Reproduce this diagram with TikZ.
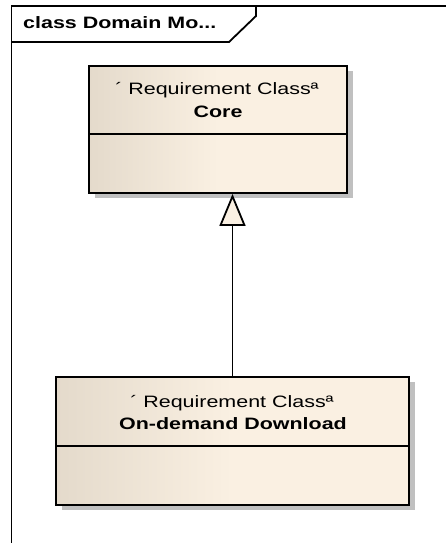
\documentclass[tikz,border=0pt]{standalone}
\usepackage{fontspec}
\usepackage{graphicx}
\setmainfont{Liberation Sans}
\usetikzlibrary{arrows.meta,shadows}

\definecolor{boxleft}{HTML}{E4DACB}
\definecolor{boxright}{HTML}{FAF0E2}
\definecolor{shadowgray}{HTML}{C0C0C0}

% text set slightly wide, as the modelling tool renders it
\newcommand{\wide}[1]{\scalebox{1.3}[1]{#1}}

\tikzset{
  frameline/.style={line width=1.8pt, line join=miter},
  classbox/.style={draw, line width=1.8pt, rectangle, inner sep=0pt,
    left color=boxleft, right color=boxright, middle color=boxright,
    general shadow={fill=shadowgray, shadow xshift=6pt, shadow yshift=-5pt}},
  sepline/.style={line width=1.6pt},
  umltext/.style={anchor=base, inner sep=0pt, font=\fontsize{16.5}{19}\selectfont},
  gen/.style={line width=1.8pt,
    -{Triangle[open, length=32pt, width=26pt, fill=boxright]}}
}

\begin{document}
\begin{tikzpicture}[x=1pt, y=1pt]
  \useasboundingbox (0,0) rectangle (445,-543);

  % diagram frame with its name tab
  \draw[frameline] (11.5,-545) -- (11.5,-6) -- (447,-6);
  \draw[frameline] (11.5,-42) -- (229,-42) -- (256,-16) -- (256,-6);
  \node[umltext, anchor=base west, font=\fontsize{16.5}{19}\selectfont\bfseries]
    (title) at (23,-28.5) {\wide{class Domain Mo...}};

  % requirement class: Core
  \node[classbox, minimum width=258pt, minimum height=127pt] (core) at (218,-129.5) {};
  \draw[sepline] (core.west |- 0,-134) -- (core.east |- 0,-134);
  \node[umltext] (corestereo) at (217,-94.5) {\wide{´ Requirement Classª}};
  \node[umltext, font=\fontsize{16.5}{19}\selectfont\bfseries] (corename) at (218,-117) {\wide{Core}};

  % requirement class: On-demand Download
  \node[classbox, minimum width=353pt, minimum height=128pt] (ondemand) at (232.5,-441) {};
  \draw[sepline] (ondemand.west |- 0,-446) -- (ondemand.east |- 0,-446);
  \node[umltext] (odstereo) at (232,-407) {\wide{´ Requirement Classª}};
  \node[umltext, font=\fontsize{16.5}{19}\selectfont\bfseries] (odname) at (233,-429) {\wide{On-demand Download}};

  % generalization
  \draw[gen] (ondemand.north) -- (ondemand.north |- core.south);
\end{tikzpicture}
\end{document}
